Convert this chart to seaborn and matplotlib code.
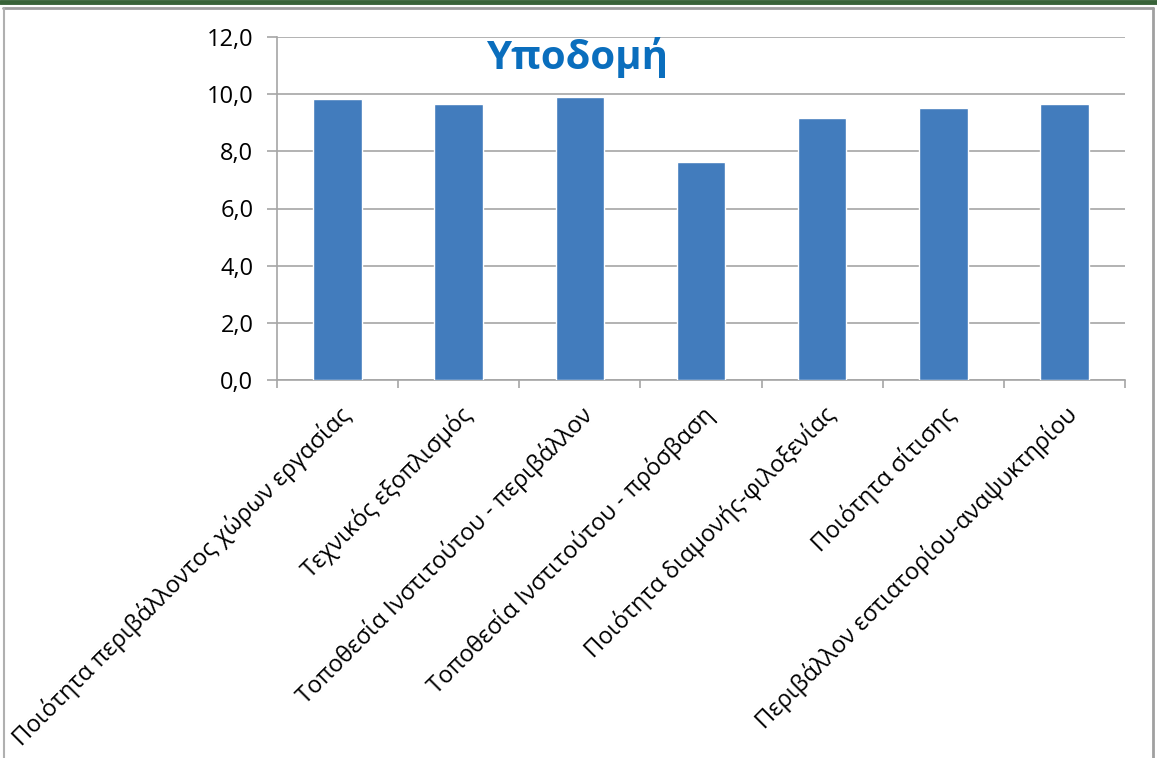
import matplotlib
matplotlib.use('Agg')
import numpy as np
import pandas as pd
import matplotlib.pyplot as plt
import seaborn as sns
from matplotlib.lines import Line2D
from matplotlib.ticker import FuncFormatter

# chart values
categories = [
    'Ποιότητα περιβάλλοντος χώρων εργασίας',
    'Τεχνικός εξοπλισμός',
    'Τοποθεσία Ινστιτούτου - περιβάλλον',
    'Τοποθεσία Ινστιτούτου - πρόσβαση',
    'Ποιότητα διαμονής-φιλοξενίας',
    'Ποιότητα σίτισης',
    'Περιβάλλον εστιατορίου-αναψυκτηρίου',
]
scores = [9.83, 9.66, 9.90, 7.64, 9.18, 9.50, 9.67]
y_ticks = [0, 2, 4, 6, 8, 10, 12]
title = 'Υποδομή'

sns.set_theme(style='white')
plt.rcParams['font.family'] = ['Open Sans', 'DejaVu Sans']

bar_color = '#427cbd'
grid_color = '#a6a6a6'


def main():
    data = pd.DataFrame({'name': categories, 'score': scores})

    fig = plt.figure(figsize=(11.57, 7.58), dpi=100)
    ax = fig.add_axes([277 / 1157, 1 - 380 / 758, 848 / 1157, 343 / 758])

    sns.barplot(data=data, x='name', y='score', color=bar_color, saturation=1,
                width=0.4, ax=ax, zorder=3)

    ax.set_ylim(0, 12)
    ax.set_xlim(-0.5, len(categories) - 0.5)
    ax.set_yticks(y_ticks)
    ax.yaxis.set_major_formatter(FuncFormatter(lambda v, p: f'{v:.1f}'.replace('.', ',')))
    ax.grid(axis='y', color=grid_color, linewidth=1.2, zorder=0)
    ax.set_axisbelow(True)
    ax.set_xlabel('')
    ax.set_ylabel('')

    for side in ['top', 'right']:
        ax.spines[side].set_visible(False)
    for side in ['left', 'bottom']:
        ax.spines[side].set_color(grid_color)
        ax.spines[side].set_linewidth(1.2)

    # category boundary ticks under the x axis
    ax.set_xticks(np.arange(len(categories)))
    ax.set_xticks(np.arange(len(categories) + 1) - 0.5, minor=True)
    ax.tick_params(axis='x', which='major', length=0, pad=16)
    ax.tick_params(axis='x', which='minor', length=6, color=grid_color, width=1.2, bottom=True)
    ax.tick_params(axis='y', length=7, color=grid_color, width=1.2, left=True, labelsize=17, pad=10)
    ax.set_xticklabels(categories, rotation=45, ha='right', rotation_mode='anchor',
                       fontsize=17, color='black')
    for lbl in ax.get_yticklabels():
        lbl.set_color('black')

    fig.text(577 / 1157, 1 - 58 / 758, title, color='#0a6ebd', fontsize=29,
             fontweight='bold', ha='center', va='center')

    # frame of the figure
    fig.add_artist(Line2D([0, 1], [1 - 1.5 / 758, 1 - 1.5 / 758], color='#386338', linewidth=3.5,
                          transform=fig.transFigure))
    fig.add_artist(Line2D([3 / 1157, 1153 / 1157], [1 - 7.5 / 758, 1 - 7.5 / 758], color='#a0a0a0',
                          linewidth=2, transform=fig.transFigure))
    fig.add_artist(Line2D([3.5 / 1157, 3.5 / 1157], [0, 1 - 7.5 / 758], color='#b0b0b0',
                          linewidth=1.5, transform=fig.transFigure))
    fig.add_artist(Line2D([1153 / 1157, 1153 / 1157], [0, 1 - 7.5 / 758], color='#a0a0a0',
                          linewidth=2, transform=fig.transFigure))

    fig.savefig('out.png', dpi=100)
    plt.close(fig)


if __name__ == '__main__':
    main()
